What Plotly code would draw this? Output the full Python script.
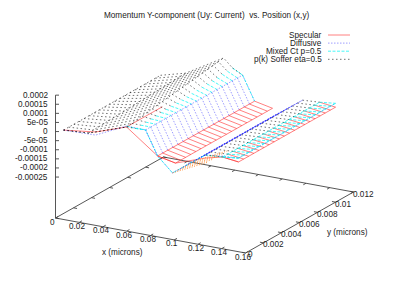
import plotly.graph_objects as go

# --- data ---
y_nodes = [0.00068, 0.00125, 0.00181, 0.00238, 0.00295, 0.00352, 0.00408, 0.00465, 0.00522, 0.00578,
           0.00635, 0.00692, 0.00748, 0.00805, 0.00862, 0.00919, 0.00975, 0.01032, 0.01089, 0.01146]

specular_x = [0.0016, 0.0286, 0.0547, 0.0808, 0.0959, 0.1212, 0.1355, 0.1490]
specular_z = [-0.000009, 0.000013, 0.000072, -0.000056, -0.000077, -0.000019, 0.000004, -0.000007]

diffusive_x = [0.0016, 0.0286, 0.0547, 0.0707, 0.0808, 0.0934, 0.1212, 0.1355, 0.1490]
diffusive_z = [-0.000009, -0.000004, 0.000077, 0.000075, -0.000056, -0.000134, -0.000002, 0.000009, 0.000014]

mixed_x = [0.0016, 0.0286, 0.0547, 0.0622, 0.0707, 0.0808, 0.0934, 0.1212, 0.1355, 0.1490]
mixed_z = [-0.000009, 0.000002, 0.000077, 0.000073, 0.000075, -0.000056, -0.000134, -0.000002, 0.000004, 0.000014]
# cyan ribs start a little higher towards large y
mixed_start = [0.000073, 0.000075, 0.000076, 0.000078, 0.000079, 0.000081, 0.000083, 0.000084, 0.000086, 0.000088,
               0.000089, 0.000091, 0.000093, 0.000094, 0.000096, 0.000098, 0.000099, 0.000101, 0.000102, 0.000104]

soffer_x = [0.0016, 0.0227, 0.0547, 0.0622, 0.0707, 0.0808, 0.0934, 0.1212, 0.1355, 0.1490]
soffer_z = [-0.000009, 0.000000, 0.000072, 0.000073, 0.000075, -0.000056, -0.000134, -0.000002, 0.000004, 0.000014]
# the Soffer surface climbs towards large y along these x nodes
soffer_shoulder = [0.000000, 0.000001, 0.000003, 0.000004, 0.000006, 0.000007, 0.000009, 0.000010, 0.000012, 0.000013,
                   0.000015, 0.000016, 0.000018, 0.000019, 0.000021, 0.000022, 0.000024, 0.000025, 0.000027, 0.000028]
soffer_ridge = [0.000072, 0.000076, 0.000080, 0.000084, 0.000088, 0.000092, 0.000096, 0.000100, 0.000104, 0.000108,
                0.000112, 0.000116, 0.000120, 0.000124, 0.000128, 0.000132, 0.000136, 0.000140, 0.000145, 0.000150]

# low corner of the surfaces, only its first rows show
corner_x = [0.0934, 0.1229]
corner_z = [-0.000134, -0.000040]

z_ticks = [0.0002, 0.00015, 0.0001, 0.00005, 0, -0.00005, -0.0001, -0.00015, -0.0002, -0.00025]
z_tick_labels = ["0.0002", "0.00015", "0.0001", "5e-05", "0", "-5e-05", "-0.0001", "-0.00015", "-0.0002", "-0.00025"]
x_ticks = [0, 0.02, 0.04, 0.06, 0.08, 0.1, 0.12, 0.14, 0.16]
x_tick_labels = ["0", "0.02", "0.04", "0.06", "0.08", "0.1", "0.12", "0.14", "0.16"]
y_ticks = [0, 0.002, 0.004, 0.006, 0.008, 0.01, 0.012]
y_tick_labels = ["0", "0.002", "0.004", "0.006", "0.008", "0.01", "0.012"]
series_names = ["Specular", "Diffusive", "Mixed Ct p=0.5", "p(k) Soffer eta=0.5"]

# --- projection (gnuplot style view) ---
X_MAX, Y_MAX, Z_BASE, Z_TOP = 0.16, 0.012, -0.000475, 0.0002
def proj(x, y, z):
    return (55.5 + 1187.5 * x + 9000 * y,
            218 + 218.75 * x - 5083 * y - (z - Z_BASE) * 182000)

def polyline(points):
    xs, ys = [], []
    for p in points:
        a, b = proj(*p)
        xs.append(a); ys.append(b)
    xs.append(None); ys.append(None)
    return xs, ys

ALL = (0, 20)
def mesh(xn, zn, ribs, ylines, override=None):
    """ribs: (first x node, last x node, first row, end row); ylines: (x node, first row, end row).
    Only the parts that hidden-line removal leaves visible are listed."""
    xs, ys = [], []
    def z_at(i, j):
        if override and i in override:
            return override[i][j]
        return zn[i]
    for i0, i1, r0, r1 in ribs:
        for j in range(r0, r1):
            a, b = polyline([(xn[i], y_nodes[j], z_at(i, j)) for i in range(i0, i1 + 1)])
            xs += a; ys += b
    for i, r0, r1 in ylines:
        a, b = polyline([(xn[i], y_nodes[j], z_at(i, j)) for j in range(r0, r1)])
        xs += a; ys += b
    return xs, ys

AXIS = "#444444"
FONT = "Liberation Sans"
fig = go.Figure()

# box and axes
bx, by = polyline([(0, 0, Z_BASE), (X_MAX, 0, Z_BASE), (X_MAX, Y_MAX, Z_BASE), (0, Y_MAX, Z_BASE), (0, 0, Z_BASE)])
zx, zy = polyline([(0, 0, Z_BASE), (0, 0, Z_TOP)])
tx, ty = [], []
for v in x_ticks:
    for p in [[(v, 0, Z_BASE), (v, 0.0003, Z_BASE)], [(v, Y_MAX, Z_BASE), (v, Y_MAX - 0.0003, Z_BASE)]]:
        a, b = polyline(p); tx += a; ty += b
for v in y_ticks:
    for p in [[(0, v, Z_BASE), (0.003, v, Z_BASE)], [(X_MAX, v, Z_BASE), (X_MAX - 0.003, v, Z_BASE)]]:
        a, b = polyline(p); tx += a; ty += b
for v in z_ticks:
    a, b = polyline([(0, 0, v), (0.003, 0, v)])
    a[1] = a[0] + 3.5; b[1] = b[0]
    tx += a; ty += b
fig.add_trace(go.Scatter(x=bx + zx + tx, y=by + zy + ty, mode="lines", showlegend=False,
                         hoverinfo="skip", line=dict(color=AXIS, width=0.9)))

styles = [dict(color="rgba(255,40,40,0.65)", width=0.9),
          dict(color="rgba(40,40,255,0.5)", width=0.9, dash="1.5px,1.5px"),
          dict(color="rgba(0,245,245,0.8)", width=0.9, dash="3px,1.5px"),
          dict(color="rgba(0,0,0,0.7)", width=0.8, dash="1.5px,2.5px")]
meshes = [
    mesh(specular_x, specular_z,
         ribs=[(3, 4, *ALL), (6, 7, *ALL), (0, 7, 0, 1)],
         ylines=[(2, 0, 8), (3, *ALL), (4, *ALL), (7, *ALL)]),
    mesh(diffusive_x, diffusive_z,
         ribs=[(3, 4, *ALL), (5, 6, *ALL), (0, 8, 0, 1)],
         ylines=[(3, *ALL), (6, *ALL), (8, *ALL)]),
    mesh(mixed_x, mixed_z,
         ribs=[(3, 4, *ALL), (8, 9, *ALL), (2, 9, 0, 1), (4, 5, 19, 20)],
         ylines=[(8, *ALL), (9, *ALL)], override={3: mixed_start}),
    mesh(soffer_x, soffer_z,
         ribs=[(0, 3, *ALL), (3, 4, 19, 20), (7, 8, *ALL), (0, 2, 0, 1)],
         ylines=[(0, *ALL), (1, *ALL), (2, *ALL)],
         override={1: soffer_shoulder, 2: soffer_ridge, 3: mixed_start}),
]
for (mx, my), st, name in zip(meshes, styles, series_names):
    fig.add_trace(go.Scatter(x=mx, y=my, mode="lines", name=name, showlegend=False,
                             hoverinfo="skip", line=st))

cx, cy = mesh(corner_x, corner_z, ribs=[(0, 1, 0, 5)], ylines=[])
fig.add_trace(go.Scatter(x=cx, y=cy, mode="lines", showlegend=False, hoverinfo="skip",
                         line=dict(color="rgba(255,140,50,0.9)", width=1, dash="1px,1.5px")))

# key
for k, (name, st) in enumerate(zip(series_names, styles)):
    yk = 35 + k * 8.1
    fig.add_trace(go.Scatter(x=[328, 350], y=[yk, yk], mode="lines", showlegend=False, hoverinfo="skip", line=st))
    fig.add_annotation(x=323, y=yk, text=name, xanchor="right", yanchor="middle", showarrow=False)

def label(x, y, text, anchor="center"):
    fig.add_annotation(x=x, y=y, text=text, xanchor=anchor, yanchor="middle", showarrow=False)

for v, s in zip(z_ticks, z_tick_labels):
    a, b = proj(0, 0, v)
    label(49, b, s, "right")
for v, s in zip(x_ticks, x_tick_labels):
    a, b = proj(v, 0, Z_BASE)
    if s == "0":
        label(52.5, 222, s)
    else:
        label(a - 2.5, b + 4, s)
for v, s in zip(y_ticks, y_tick_labels):
    a, b = proj(X_MAX, v, Z_BASE)
    if s == "0":
        label(250, 254, s)
    else:
        label(a - 2, b + 2, s, "left")
label(122, 252, "x (microns)")
label(347, 232, "y (microns)")
label(206, 15, "Momentum Y-component (Uy: Current)  vs. Position (x,y)")

fig.update_layout(width=411, height=288, margin=dict(l=0, r=0, t=0, b=0, pad=0, autoexpand=False),
                  paper_bgcolor="white", plot_bgcolor="white",
                  font=dict(family=FONT, size=8.2, color="#222222"),
                  xaxis=dict(range=[0, 411], visible=False, fixedrange=True, domain=[0, 1]),
                  yaxis=dict(range=[288, 0], visible=False, fixedrange=True, domain=[0, 1]))
for a in fig.layout.annotations:
    a.update(borderpad=0)
fig.write_html("out.html", config=dict(displayModeBar=False),
               post_script="document.body.style.margin='0';document.documentElement.style.overflow='hidden';")
